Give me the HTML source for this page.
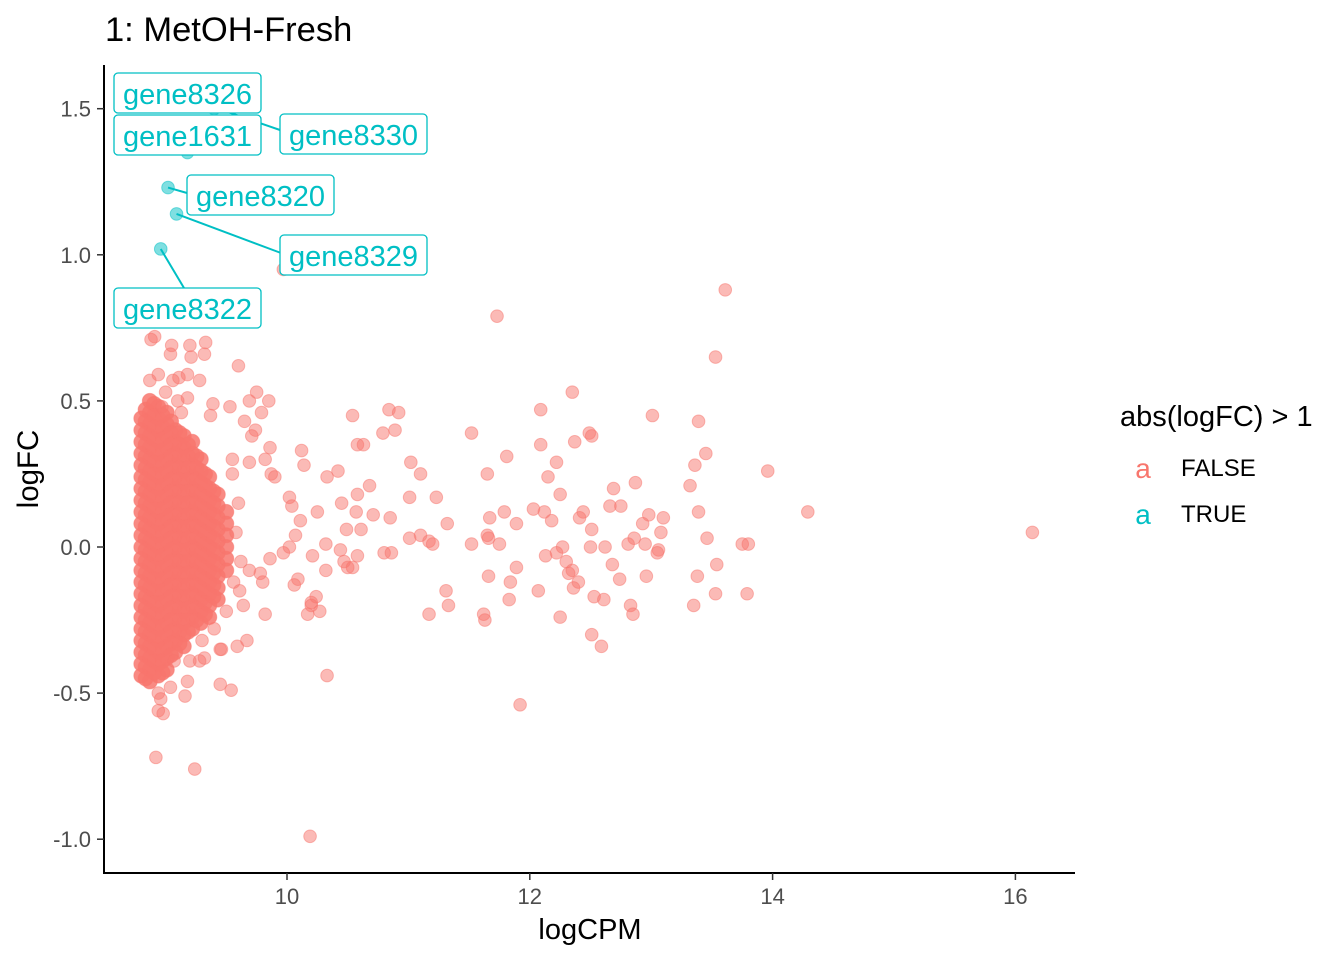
<!DOCTYPE html>
<html><head><meta charset="utf-8"><style>
body{margin:0;background:#fff;}
svg text{font-family:"Liberation Sans",sans-serif;}
</style></head><body>
<svg id="chart" width="1344" height="960" xmlns="http://www.w3.org/2000/svg">
<rect width="1344" height="960" fill="#fff"/>
<text x="105" y="41" font-size="34.5" fill="#000">1: MetOH-Fresh</text>
<g id="points"></g>
<g id="labels"></g>
<line x1="104" y1="65" x2="104" y2="873" stroke="#000" stroke-width="2"/>
<line x1="103" y1="873" x2="1075" y2="873" stroke="#000" stroke-width="2"/>
<g id="axes"></g>
<text x="590" y="939" font-size="29" text-anchor="middle">logCPM</text>
<text transform="translate(38,469) rotate(-90)" font-size="29.5" text-anchor="middle">logFC</text>
<text x="1120" y="426" font-size="29">abs(logFC) &gt; 1</text>
<g><text x="1143" y="478" font-size="28" fill="#F8766D" text-anchor="middle">a</text><text x="1181" y="476" font-size="24">FALSE</text></g>
<g><text x="1143" y="524" font-size="28" fill="#00BFC4" text-anchor="middle">a</text><text x="1181" y="522" font-size="24">TRUE</text></g>
</svg>
<script>
const xTicks=[10,12,14,16];
const yTicks=[1.5,1.0,0.5,0.0,-0.5,-1.0];
const yTickLabels=["1.5","1.0","0.5","0.0","-0.5","-1.0"];
const coreCPM=[8.80,8.87,8.94,9.01,9.08,9.15,9.22,9.29,9.36,9.43,9.50];
const coreFC=[
[0.44,0.40,0.36,0.32,0.28,0.24,0.20,0.16,0.12,0.08,0.04,0.00,-0.04,-0.08,-0.12,-0.16,-0.20,-0.24,-0.28,-0.32,-0.36,-0.40,-0.44],
[0.50,0.46,0.42,0.38,0.34,0.30,0.26,0.22,0.18,0.14,0.10,0.06,0.02,-0.02,-0.06,-0.10,-0.14,-0.18,-0.22,-0.26,-0.30,-0.34,-0.38,-0.42,-0.46],
[0.48,0.44,0.40,0.36,0.32,0.28,0.24,0.20,0.16,0.12,0.08,0.04,0.00,-0.04,-0.08,-0.12,-0.16,-0.20,-0.24,-0.28,-0.32,-0.36,-0.40,-0.44],
[0.46,0.42,0.38,0.34,0.30,0.26,0.22,0.18,0.14,0.10,0.06,0.02,-0.02,-0.06,-0.10,-0.14,-0.18,-0.22,-0.26,-0.30,-0.34,-0.38,-0.42],
[0.40,0.36,0.32,0.28,0.24,0.20,0.16,0.12,0.08,0.04,0.00,-0.04,-0.08,-0.12,-0.16,-0.20,-0.24,-0.28,-0.32,-0.36],
[0.38,0.34,0.30,0.26,0.22,0.18,0.14,0.10,0.06,0.02,-0.02,-0.06,-0.10,-0.14,-0.18,-0.22,-0.26,-0.30,-0.34],
[0.36,0.32,0.28,0.24,0.20,0.16,0.12,0.08,0.04,0.00,-0.04,-0.08,-0.12,-0.16,-0.20,-0.24,-0.28],
[0.30,0.26,0.22,0.18,0.14,0.10,0.06,0.02,-0.02,-0.06,-0.10,-0.14,-0.18,-0.22,-0.26],
[0.24,0.20,0.16,0.12,0.08,0.04,0.00,-0.04,-0.08,-0.12,-0.16,-0.20,-0.24],
[0.18,0.14,0.10,0.06,0.02,-0.02,-0.06,-0.10,-0.14,-0.18],
[0.12,0.08,0.04,0.00,-0.04,-0.08]
];
const coreCPM2=[8.835,8.905,8.975,9.045,9.115,9.185,9.255,9.325,9.395];
const coreFC2=[
[0.47,0.43,0.39,0.35,0.31,0.27,0.23,0.19,0.15,0.11,0.07,0.03,-0.01,-0.05,-0.09,-0.13,-0.17,-0.21,-0.25,-0.29,-0.33,-0.37,-0.41,-0.45],
[0.49,0.45,0.41,0.37,0.33,0.29,0.25,0.21,0.17,0.13,0.09,0.05,0.01,-0.03,-0.07,-0.11,-0.15,-0.19,-0.23,-0.27,-0.31,-0.35,-0.39,-0.43],
[0.45,0.41,0.37,0.33,0.29,0.25,0.21,0.17,0.13,0.09,0.05,0.01,-0.03,-0.07,-0.11,-0.15,-0.19,-0.23,-0.27,-0.31,-0.35,-0.39,-0.43],
[0.43,0.39,0.35,0.31,0.27,0.23,0.19,0.15,0.11,0.07,0.03,-0.01,-0.05,-0.09,-0.13,-0.17,-0.21,-0.25,-0.29,-0.33,-0.37],
[0.39,0.35,0.31,0.27,0.23,0.19,0.15,0.11,0.07,0.03,-0.01,-0.05,-0.09,-0.13,-0.17,-0.21,-0.25,-0.29,-0.33],
[0.35,0.31,0.27,0.23,0.19,0.15,0.11,0.07,0.03,-0.01,-0.05,-0.09,-0.13,-0.17,-0.21,-0.25,-0.29],
[0.31,0.27,0.23,0.19,0.15,0.11,0.07,0.03,-0.01,-0.05,-0.09,-0.13,-0.17,-0.21,-0.25],
[0.25,0.21,0.17,0.13,0.09,0.05,0.01,-0.03,-0.07,-0.11,-0.15,-0.19,-0.23],
[0.19,0.15,0.11,0.07,0.03,-0.01,-0.05,-0.09,-0.13,-0.17]
];
const scatterPts=[[13.61,0.88],[11.73,0.79],[13.53,0.65],[12.35,0.53],[10.84,0.47],[10.92,0.46],[12.09,0.47],[10.54,0.45],[11.52,0.39],[13.01,0.45],[13.39,0.43],[12.49,0.39],[12.51,0.38],[12.37,0.36],[10.89,0.40],[10.79,0.39],[10.58,0.35],[10.63,0.35],[12.09,0.35],[13.45,0.32],[11.81,0.31],[10.12,0.33],[11.02,0.29],[12.22,0.29],[13.96,0.26],[13.36,0.28],[11.10,0.25],[11.65,0.25],[10.14,0.28],[10.33,0.24],[10.42,0.26],[12.15,0.24],[12.87,0.22],[10.68,0.21],[13.32,0.21],[12.69,0.20],[11.23,0.17],[12.25,0.18],[10.58,0.18],[11.01,0.17],[14.29,0.12],[13.39,0.12],[10.45,0.15],[10.25,0.12],[10.57,0.12],[12.03,0.13],[12.12,0.12],[12.44,0.12],[12.41,0.10],[12.66,0.14],[12.75,0.14],[12.98,0.11],[13.10,0.10],[11.79,0.12],[11.67,0.10],[11.89,0.08],[12.18,0.09],[12.93,0.08],[11.32,0.08],[10.71,0.11],[10.85,0.10],[10.49,0.06],[11.10,0.04],[13.08,0.05],[13.46,0.03],[12.51,0.06],[16.14,0.05],[10.61,0.06],[11.01,0.03],[11.17,0.02],[11.20,0.01],[11.52,0.01],[11.65,0.04],[11.66,0.03],[11.75,0.01],[12.86,0.03],[12.81,0.01],[12.95,0.01],[12.50,0.00],[12.62,0.00],[13.75,0.01],[13.80,0.01],[12.27,0.00],[12.13,-0.03],[12.22,-0.02],[13.06,-0.01],[13.05,-0.02],[10.80,-0.02],[10.86,-0.02],[10.58,-0.03],[10.44,-0.01],[10.32,0.01],[10.47,-0.05],[10.21,-0.03],[10.32,-0.08],[10.50,-0.07],[10.54,-0.07],[11.89,-0.07],[12.30,-0.05],[12.35,-0.08],[12.68,-0.06],[13.54,-0.06],[12.32,-0.09],[11.66,-0.10],[11.84,-0.12],[12.40,-0.12],[12.74,-0.11],[12.96,-0.10],[13.38,-0.10],[12.36,-0.14],[12.07,-0.15],[11.31,-0.15],[12.53,-0.17],[10.24,-0.17],[11.83,-0.18],[13.53,-0.16],[13.79,-0.16],[11.33,-0.20],[12.61,-0.18],[12.83,-0.20],[13.35,-0.20],[10.20,-0.19],[10.20,-0.20],[10.27,-0.22],[10.17,-0.23],[11.17,-0.23],[11.62,-0.23],[11.63,-0.25],[12.25,-0.24],[12.85,-0.23],[12.51,-0.30],[12.59,-0.34],[10.33,-0.44],[11.92,-0.54],[10.19,-0.99],
[9.97,0.95],[9.79,0.46],[9.69,0.50],[9.85,0.50],[9.75,0.53],[9.53,0.48],[9.60,0.62],[9.39,0.49],[9.32,0.66],[9.33,0.70],[9.20,0.69],[9.21,0.65],[9.05,0.69],[9.04,0.66],[8.91,0.72],[8.88,0.71],[9.18,0.59],[9.11,0.58],[9.28,0.57],[9.37,0.45],[9.65,0.43],[9.74,0.40],[9.71,0.38],[9.86,0.34],[9.82,0.30],[9.69,0.29],[9.55,0.25],[9.87,0.25],[9.90,0.24],[10.02,0.17],[10.04,0.14],[10.11,0.09],[10.07,0.04],[10.02,0.00],[9.97,-0.02],[9.86,-0.04],[9.78,-0.09],[9.69,-0.08],[9.80,-0.12],[9.61,-0.15],[9.64,-0.20],[9.82,-0.23],[9.67,-0.32],[9.59,-0.34],[9.45,-0.35],[9.32,-0.38],[9.20,-0.39],[9.28,-0.39],[9.07,-0.39],[9.18,-0.46],[9.04,-0.48],[8.94,-0.50],[8.96,-0.52],[9.16,-0.51],[9.45,-0.47],[9.54,-0.49],[8.94,-0.56],[8.98,-0.57],[8.92,-0.72],[9.24,-0.76],[9.46,-0.35],[10.09,-0.11],[10.06,-0.13],
[8.87,0.57],[8.94,0.59],[9.00,0.53],[9.06,0.57],[9.18,0.51],[9.10,0.50],[8.97,0.48],[9.13,0.46],[9.55,0.30],[9.60,0.15],[9.58,0.05],[9.62,-0.05],[9.56,-0.12],[9.50,-0.22],[9.40,-0.28],[9.30,-0.32]];
const sigCPM=[9.02,9.09,8.96,9.18,9.40,9.30];
const sigFC=[1.23,1.14,1.02,1.35,1.50,1.40];
const sigNames=["gene8320","gene8329","gene8322","gene1631","gene8326","gene8330"];

const X=v=>287+(v-10)*121.4;
const Y=v=>547-v*292.2;
const NS="http://www.w3.org/2000/svg";
const mk=(t,a,p)=>{const e=document.createElementNS(NS,t);for(const k in a)e.setAttribute(k,a[k]);p.appendChild(e);return e;};
const axes=document.getElementById('axes'),pts=document.getElementById('points'),lab=document.getElementById('labels');
xTicks.forEach(v=>{
 const l=mk('line',{x1:X(v),x2:X(v),y1:873,y2:880,stroke:'#333','stroke-width':1.5},axes);
 
 
 const t=mk('text',{x:X(v),y:904,'font-size':22,fill:'#4d4d4d','text-anchor':'middle'},axes);t.textContent=v;
 
 
});
yTicks.forEach((v,i)=>{
 const l=mk('line',{x1:97,x2:104,y1:Y(v),y2:Y(v),stroke:'#333','stroke-width':1.5},axes);
 
 
 const t=mk('text',{x:91,y:Y(v)+8,'font-size':22,fill:'#4d4d4d','text-anchor':'end'},axes);t.textContent=yTickLabels[i];
 
 
});
function dot(x,y,c,name,r,op){
 const e=mk('circle',{cx:X(x),cy:Y(y),r:r,fill:c,'fill-opacity':op,stroke:c,'stroke-opacity':0.5,'stroke-width':1},pts);
 
 
}
coreCPM.forEach((c,i)=>coreFC[i].forEach(f=>dot(c,f,'#F8766D','gene-point-false',7.5,0.85)));
coreCPM2.forEach((c,i)=>coreFC2[i].forEach(f=>dot(c,f,'#F8766D','gene-point-false',7.5,0.85)));
scatterPts.forEach(p=>dot(p[0],p[1],'#F8766D','gene-point-false',6.3,0.5));
sigCPM.forEach((c,i)=>dot(c,sigFC[i],'#00BFC4','gene-point-true',6.3,0.5));
const boxes=[[0,187,175],[1,280,235],[2,114,288],[3,114,115],[4,114,73],[5,280,114]];
const segEnds=[[187,193],[281,253],[184,288],null,[280,130],null];
boxes.forEach((b,k)=>{
 const i=b[0];
 if(segEnds[k]){
  const s=mk('line',{x1:X(sigCPM[i]),y1:Y(sigFC[i]),x2:segEnds[k][0],y2:segEnds[k][1],stroke:'#00BFC4','stroke-width':2},lab);
  if(i===4){s.setAttribute('x1',222);s.setAttribute('y1',110);}
  
  
 }
});
boxes.forEach(b=>{
 const i=b[0];
 const g=mk('g',{},lab);
 
 
 mk('rect',{x:b[1],y:b[2],width:147,height:40,rx:4,fill:'#fff',stroke:'#00BFC4','stroke-width':1.3},g);
 const t=mk('text',{x:b[1]+73.5,y:b[2]+31,'font-size':29,fill:'#00BFC4','text-anchor':'middle'},g);
 t.textContent=sigNames[i];
});
</script>
</body></html>
